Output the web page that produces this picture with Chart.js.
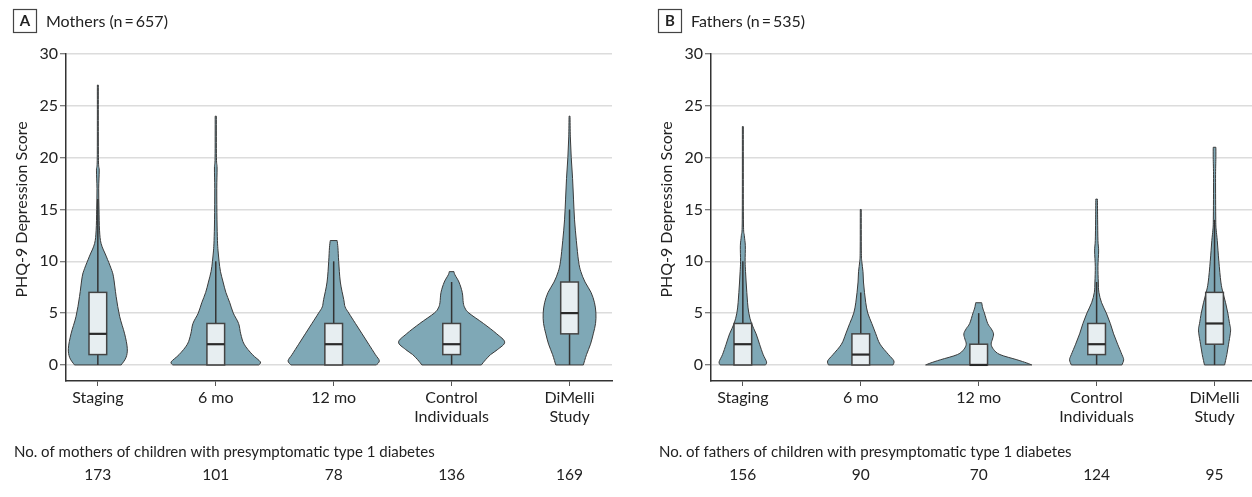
<!DOCTYPE html>
<html>
<head>
<meta charset="utf-8">
<script src="https://cdn.jsdelivr.net/npm/chart.js@4.4.1/dist/chart.umd.min.js"></script>
<style>
  html, body { margin: 0; padding: 0; background: #fff; overflow: hidden; width: 1252px; height: 497px; }
  .panel { position: absolute; top: 0; width: 645px; height: 497px; }
  #panelA { left: 0; }
  #panelB { left: 645px; }
</style>
</head>
<body>
<div class="panel" id="panelA"><canvas id="chartA"></canvas></div>
<div class="panel" id="panelB"><canvas id="chartB"></canvas></div>
<script>
// categories (multi-line tick labels)
const categories = [["Staging"], ["6 mo"], ["12 mo"], ["Control", "Individuals"], ["DiMelli", "Study"]];
const yTicks = [0, 5, 10, 15, 20, 25, 30];

// Mothers
const mothersCounts = [173, 101, 78, 136, 169];
const mothersQ1 = [1, 0, 0, 1, 3];
const mothersMedian = [3, 2, 2, 2, 5];
const mothersQ3 = [7, 4, 4, 4, 8];
const mothersWhiskerLow = [0, 0, 0, 0, 0];
const mothersWhiskerHigh = [16, 10, 10, 8, 15];
// relative density profiles: [score, density]
const mothersDensity = [
  [[0,0.44],[0.7,0.53],[1.6,0.555],[3,0.505],[4.7,0.41],[6.6,0.345],[8.5,0.295],[9.3,0.25],[10.5,0.157],[11.7,0.062],[13,0.032],[15,0.022],[17,0.016],[18.8,0.026],[20,0.011],[27,0.009]],
  [[0,0.81],[0.3,0.84],[1,0.69],[2,0.535],[3,0.47],[4,0.43],[5,0.33],[6,0.264],[7,0.19],[8,0.138],[9,0.089],[10,0.062],[11,0.043],[12,0.032],[14,0.023],[17,0.019],[19,0.025],[20,0.013],[24,0.011]],
  [[0,0.805],[0.4,0.86],[1,0.785],[2,0.66],[3,0.535],[4,0.41],[5,0.285],[5.6,0.215],[6.3,0.19],[8,0.125],[10,0.094],[11.3,0.08],[12,0.065]],
  [[0,0.56],[0.5,0.64],[1,0.735],[1.5,0.87],[2.2,1.0],[3,0.85],[4,0.6],[5,0.327],[5.5,0.25],[6,0.22],[7,0.2],[8,0.138],[8.7,0.062],[9,0.045]],
  [[0,0.26],[1,0.32],[2,0.395],[3,0.447],[4,0.49],[5,0.497],[6,0.47],[7,0.405],[8,0.292],[9,0.213],[10,0.17],[12,0.128],[14,0.094],[16,0.075],[18,0.057],[20,0.032],[22,0.015],[24,0.009]]
];

// Fathers
const fathersCounts = [156, 90, 70, 124, 95];
const fathersQ1 = [0, 0, 0, 1, 2];
const fathersMedian = [2, 1, 0, 2, 4];
const fathersQ3 = [4, 3, 2, 4, 7];
const fathersWhiskerLow = [0, 0, 0, 0, 0];
const fathersWhiskerHigh = [10, 7, 5, 8, 14];
const fathersDensity = [
  [[0,0.428],[0.3,0.447],[1,0.383],[2,0.315],[3,0.25],[4,0.164],[5,0.113],[6,0.089],[7,0.075],[8,0.062],[9,0.051],[10,0.043],[11.5,0.047],[12.5,0.028],[14,0.011],[23,0.009]],
  [[0,0.61],[0.4,0.623],[1,0.523],[2,0.364],[3,0.283],[4,0.208],[5,0.132],[6,0.094],[7,0.07],[8,0.051],[9,0.042],[10,0.019],[11,0.011],[15,0.009]],
  [[0,1.0],[0.2,0.9],[0.5,0.72],[1,0.4],[1.5,0.28],[2,0.235],[2.5,0.26],[3,0.28],[3.5,0.235],[4,0.17],[5,0.108],[5.5,0.075],[6,0.057]],
  [[0,0.477],[0.5,0.51],[1,0.477],[2,0.396],[3,0.32],[4,0.258],[5,0.183],[6,0.094],[7,0.043],[8,0.032],[9.5,0.025],[11,0.038],[12,0.025],[14,0.019],[16,0.015]],
  [[0,0.19],[1,0.232],[2,0.264],[3,0.296],[3.5,0.302],[4,0.283],[5,0.25],[6,0.208],[7,0.157],[8,0.119],[10,0.081],[12,0.051],[13,0.032],[14,0.023],[18,0.019],[20,0.025],[21,0.025]]
];

const FONT = "Lato, 'Liberation Sans', sans-serif";
const TEXT = "#222";
const VIOLIN_FILL = "#7fa8b6";
const VIOLIN_LINE = "#3a3a3a";
const BOX_FILL = "#e7eef1";
const BOX_LINE = "#444";
const violinHalfWidth = 0.45;
const boxHalfWidth = 0.075;

// smooth open curve through points (catmull-rom)
function smoothTo(ctx, pts) {
  for (let k = 0; k < pts.length - 1; k++) {
    const p0 = pts[Math.max(k - 1, 0)], p1 = pts[k], p2 = pts[k + 1], p3 = pts[Math.min(k + 2, pts.length - 1)];
    ctx.bezierCurveTo(
      p1.x + (p2.x - p0.x) / 6, p1.y + (p2.y - p0.y) / 6,
      p2.x - (p3.x - p1.x) / 6, p2.y - (p3.y - p1.y) / 6,
      p2.x, p2.y);
  }
}

function makeViolinPlugin(panel) {
  return {
    id: "violins",
    beforeDatasetsDraw(chart) {
      const ctx = chart.ctx, xs = chart.scales.x, ys = chart.scales.y;
      ctx.save();
      panel.density.forEach((profile, i) => {
        const left = profile.map(([y, d]) => ({ x: xs.getPixelForValue(i - d * violinHalfWidth), y: ys.getPixelForValue(y) }));
        const right = profile.map(([y, d]) => ({ x: xs.getPixelForValue(i + d * violinHalfWidth), y: ys.getPixelForValue(y) })).reverse();
        ctx.beginPath();
        ctx.moveTo(left[0].x, left[0].y);
        smoothTo(ctx, left);
        ctx.lineTo(right[0].x, right[0].y);
        smoothTo(ctx, right);
        ctx.closePath();
        ctx.fillStyle = VIOLIN_FILL;
        ctx.fill();
        ctx.lineWidth = 1;
        ctx.strokeStyle = VIOLIN_LINE;
        ctx.stroke();

        // whisker
        const cx = xs.getPixelForValue(i);
        ctx.beginPath();
        ctx.moveTo(cx, ys.getPixelForValue(panel.whiskerLow[i]));
        ctx.lineTo(cx, ys.getPixelForValue(panel.whiskerHigh[i]));
        ctx.lineWidth = 1.5;
        ctx.strokeStyle = "#333";
        ctx.stroke();

        // box
        const bx0 = xs.getPixelForValue(i - boxHalfWidth), bx1 = xs.getPixelForValue(i + boxHalfWidth);
        const by0 = ys.getPixelForValue(panel.q3[i]), by1 = ys.getPixelForValue(panel.q1[i]);
        ctx.fillStyle = BOX_FILL;
        ctx.fillRect(bx0, by0, bx1 - bx0, by1 - by0);
        ctx.lineWidth = 1.5;
        ctx.strokeStyle = BOX_LINE;
        ctx.strokeRect(bx0, by0, bx1 - bx0, by1 - by0);
      });
      ctx.restore();
    },
    afterDraw(chart) {
      const ctx = chart.ctx, xs = chart.scales.x, ys = chart.scales.y;
      ctx.save();
      ctx.fillStyle = TEXT;
      // panel letter
      ctx.strokeStyle = "#444";
      ctx.lineWidth = 1.2;
      ctx.strokeRect(13.5, 9.5, 23, 23);
      ctx.font = "bold 15px " + FONT;
      ctx.textAlign = "center";
      ctx.textBaseline = "middle";
      ctx.fillText(panel.letter, 25, 21.5);
      ctx.font = "16px " + FONT;
      ctx.textAlign = "left";
      ctx.textBaseline = "alphabetic";
      ctx.fillText(panel.title, 46, 27);

      // y-axis title, centred on the 0-30 range
      const yc = (ys.getPixelForValue(0) + ys.getPixelForValue(30)) / 2;
      ctx.save();
      ctx.translate(22, yc);
      ctx.rotate(-Math.PI / 2);
      ctx.font = "16px " + FONT;
      ctx.textAlign = "center";
      ctx.textBaseline = "middle";
      ctx.fillText("PHQ-9 Depression Score", 0, 0);
      ctx.restore();

      // counts below the axis
      ctx.font = "15px " + FONT;
      ctx.textAlign = "left";
      ctx.fillText(panel.caption, 14, 457);
      ctx.font = "15.5px " + FONT;
      ctx.textAlign = "center";
      panel.counts.forEach((n, i) => ctx.fillText(String(n), xs.getPixelForValue(i), 480));
      ctx.restore();
    }
  };
}

function makeChart(canvasId, panel) {
  return new Chart(document.getElementById(canvasId), {
    type: "scatter",
    data: {
      datasets: [{
        label: "Median",
        data: panel.median.map((m, i) => ({ x: i, y: m })),
        pointStyle: "line",
        pointRadius: 8.8,
        borderWidth: 2.2,
        borderColor: "#2a2a2a",
        backgroundColor: "#2a2a2a"
      }]
    },
    options: {
      responsive: true,
      maintainAspectRatio: false,
      animation: false,
      events: [],
      layout: { padding: { top: 54, right: 33, bottom: 0, left: 0 } },
      plugins: { legend: { display: false }, tooltip: { enabled: false } },
      scales: {
        x: {
          type: "linear",
          min: -0.27,
          max: 4.36,
          afterBuildTicks: s => { s.ticks = categories.map((c, i) => ({ value: i })); },
          afterFit: s => { s.height = 116; },
          grid: { drawOnChartArea: false, tickLength: 5, tickColor: "#555", tickWidth: 1 },
          border: { color: "#333", width: 1.5 },
          ticks: { callback: v => categories[v], color: TEXT, font: { family: FONT, size: 16, lineHeight: 1.15 }, padding: 3, maxRotation: 0, autoSkip: false }
        },
        y: {
          min: -1.55,
          max: 30,
          afterBuildTicks: s => { s.ticks = yTicks.map(v => ({ value: v })); },
          afterFit: s => { s.width = 66; },
          grid: { color: "#dcdcdc", lineWidth: 1.5, tickLength: 6, tickColor: "#555", tickWidth: 1 },
          border: { color: "#333", width: 1.5 },
          ticks: { color: TEXT, font: { family: FONT, size: 16 }, padding: 2 }
        }
      }
    },
    plugins: [makeViolinPlugin(panel)]
  });
}

makeChart("chartA", {
  letter: "A", title: "Mothers (n\u2009=\u2009657)",
  caption: "No. of mothers of children with presymptomatic type 1 diabetes",
  counts: mothersCounts, q1: mothersQ1, median: mothersMedian, q3: mothersQ3,
  whiskerLow: mothersWhiskerLow, whiskerHigh: mothersWhiskerHigh, density: mothersDensity
});
makeChart("chartB", {
  letter: "B", title: "Fathers (n\u2009=\u2009535)",
  caption: "No. of fathers of children with presymptomatic type 1 diabetes",
  counts: fathersCounts, q1: fathersQ1, median: fathersMedian, q3: fathersQ3,
  whiskerLow: fathersWhiskerLow, whiskerHigh: fathersWhiskerHigh, density: fathersDensity
});
</script>
</body>
</html>
